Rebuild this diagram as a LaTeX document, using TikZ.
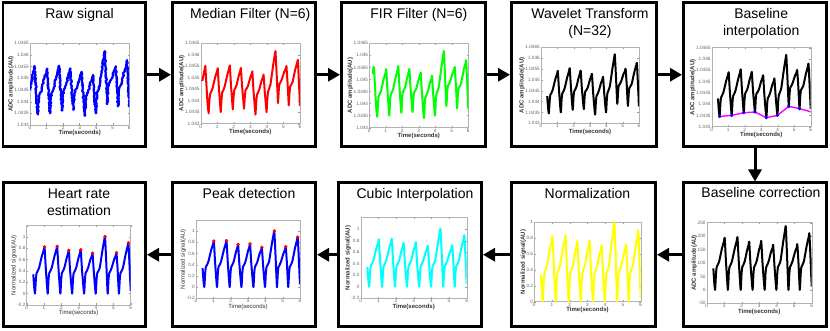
\documentclass[tikz,border=0pt]{standalone}
\usepackage{fontspec}
\setmainfont{Liberation Sans}
\usepackage{pgfplots}
\usepackage{pgfplotstable}
\pgfplotsset{compat=1.18}
\usetikzlibrary{arrows.meta,decorations.pathmorphing}
\pgfmathsetseed{7}
\definecolor{mblue}{rgb}{0,0,1}
\definecolor{mred}{rgb}{1,0,0}
\definecolor{mgreen}{rgb}{0,1,0}
\definecolor{mcyan}{rgb}{0,1,1}
\definecolor{myellow}{rgb}{1,1,0}
\definecolor{mmagenta}{rgb}{1,0,1}
\pgfplotstableread{
t v
0.00 0.45
0.10 0.60
0.20 0.76
0.28 0.88
0.38 0.34
0.43 0.12
0.48 0.00
0.53 0.25
0.57 0.36
0.64 0.40
0.72 0.46
0.875 0.66
0.99 0.77
1.03 0.82
1.10 0.45
1.21 0.00
1.26 0.25
1.30 0.36
1.37 0.40
1.45 0.46
1.605 0.66
1.72 0.78
1.76 0.83
1.83 0.46
1.94 0.00
1.99 0.25
2.03 0.36
2.10 0.40
2.18 0.46
2.305 0.625
2.39 0.71
2.43 0.76
2.50 0.42
2.62 0.00
2.67 0.25
2.71 0.36
2.78 0.40
2.86 0.46
2.99 0.63
3.08 0.72
3.12 0.77
3.19 0.42
3.31 0.00
3.36 0.25
3.40 0.36
3.47 0.40
3.55 0.46
3.675 0.60
3.76 0.66
3.80 0.71
3.87 0.39
3.98 0.00
4.03 0.25
4.07 0.36
4.14 0.40
4.22 0.46
4.37 0.76
4.48 0.95
4.52 1.00
4.59 0.55
4.67 0.00
4.72 0.25
4.76 0.36
4.83 0.40
4.91 0.46
5.045 0.60
5.14 0.67
5.18 0.72
5.25 0.40
5.32 0.00
5.37 0.25
5.41 0.36
5.48 0.40
5.56 0.46
5.715 0.70
5.83 0.84
5.87 0.89
5.94 0.45
6.00 0.05
}\sigtab
\newcommand\tickfont{\fontsize{4.7}{5}\selectfont}
\newcommand\labfont{\fontsize{6}{6.5}\selectfont\bfseries}
\tikzset{
  declare function={bl(\s)=0.129+0.01918*max(0,\s-0.48)+0.02740*max(0,\s-1.21)-0.03334*max(0,\s-1.94)-0.11759*max(0,\s-2.62)+0.14763*max(0,\s-3.31)+0.12194*max(0,\s-3.98)-0.20830*max(0,\s-4.67)-0.01574*max(0,\s-5.32);},
  box/.style={draw=black, line width=2.7pt, fill=white, minimum height=143.8pt, inner sep=0pt},
  ttl/.style={font=\fontsize{14}{16}\selectfont, anchor=base, inner sep=0pt},
  arr/.style={line width=3pt, -{Triangle[length=12pt,width=13pt]}},
  xten/.style={anchor=south west, font=\tickfont, text=black!60, inner sep=0.6pt},
}
\pgfplotsset{
  mat/.style={scale only axis, anchor=south west, xmin=0, xmax=6, xtick={0,1,...,6}, scaled ticks=false,
    axis line style={black!30, line width=0.4pt}, major tick length=1.6pt,
    every tick/.style={black!40, line width=0.3pt},
    tick label style={font=\tickfont, text=black!60, inner sep=1pt, /pgf/number format/assume math mode=true},
    xlabel={Time(seconds)}, label style={font=\labfont, text=black!80},
    xlabel style={yshift=3.5pt}, ylabel style={yshift=-4pt}},
  adc/.style={mat, ymin=0, ymax=1,
    ytick={0,0.142857,0.285714,0.428571,0.571429,0.714286,0.857143,1},
    yticklabels={1.043,1.0435,1.044,1.0445,1.045,1.0455,1.046,1.0465},
    ylabel={ADC amplitude(AU)}},
  nrm/.style={mat, ymin=-0.2, ymax=1.2, ytick={-0.2,0,0.2,0.4,0.6,0.8,1}, ylabel={Normalized signal(AU)}},
  sig/.style={line width=2pt, line join=round, smooth, tension=0.3, no markers},
  shp/.style={line width=2pt, line join=round, no markers},
}
\begin{document}
\begin{tikzpicture}[x=1pt,y=1pt]
\useasboundingbox (0,0) rectangle (830,331);
% boxes
\node[box, minimum width=142.8pt] (b1) at (74.25,256.25) {};
\node[box, minimum width=143.3pt] (b2) at (244,256.25) {};
\node[box, minimum width=144.3pt] (b3) at (413.5,256.25) {};
\node[box, minimum width=145.3pt] (b4) at (584,256.25) {};
\node[box, minimum width=143.3pt] (b5) at (755,256.25) {};
\node[box, minimum width=143.3pt] (b6) at (755,76.25) {};
\node[box, minimum width=144.3pt] (b7) at (583.5,76.25) {};
\node[box, minimum width=143.3pt] (b8) at (410,76.25) {};
\node[box, minimum width=143.3pt] (b9) at (244,76.25) {};
\node[box, minimum width=142.3pt] (b10) at (74.5,76.25) {};
% arrows
\draw[arr] (b1.east) -- (b2.west);
\draw[arr] (b2.east) -- (b3.west);
\draw[arr] (b3.east) -- (b4.west);
\draw[arr] (b4.east) -- (b5.west);
\draw[arr] (b5.south) -- (b6.north);
\draw[arr] (b6.west) -- (b7.east);
\draw[arr] (b7.west) -- (b8.east);
\draw[arr] (b8.west) -- (b9.east);
\draw[arr] (b9.west) -- (b10.east);
% titles
\node[ttl] (t1) at (79.6,312) {Raw signal};
\node[ttl] (t2) at (250.3,312) {Median Filter (N=6)};
\node[ttl] (t3) at (418.8,312) {FIR Filter (N=6)};
\node[ttl] (t4a) at (590,312) {Wavelet Transform};
\node[ttl] (t4b) at (590,295.5) {(N=32)};
\node[ttl] (t5a) at (761.2,312) {Baseline};
\node[ttl] (t5b) at (761.2,295.5) {interpolation};
\node[ttl] (t6) at (761,133) {Baseline correction};
\node[ttl] (t7) at (587.5,132) {Normalization};
\node[ttl] (t8) at (415,132) {Cubic Interpolation};
\node[ttl] (t9) at (249,132) {Peak detection};
\node[ttl] (t10a) at (79,132) {Heart rate};
\node[ttl] (t10b) at (79,115.5) {estimation};
% plots
\begin{axis}[adc, name=p1, at={(30pt,206pt)}, width=99.3pt, height=81.7pt]
\addplot[shp, line width=2.2pt, mblue, decorate, decoration={random steps, segment length=1pt, amplitude=0.7pt}] table[x=t, y expr={bl(\thisrow{t})+0.671*\thisrow{v}}] {\sigtab};
\node[xten] (x1) at (rel axis cs:0,1) {×10\textsuperscript{5}};
\end{axis}
\begin{axis}[adc, name=p2, at={(200.7pt,207.3pt)}, width=99.3pt, height=80.4pt]
\addplot[shp, mred, restrict x to domain=0.09:6] table[x=t, y expr={bl(\thisrow{t})+0.671*\thisrow{v}}] {\sigtab};
\node[xten] (x2) at (rel axis cs:0,1) {×10\textsuperscript{5}};
\end{axis}
\begin{axis}[adc, name=p3, at={(369.3pt,203.3pt)}, width=99pt, height=84.4pt]
\addplot[sig, mgreen, restrict x to domain=0.19:6] table[x=t, y expr={bl(\thisrow{t})+0.671*\thisrow{v}}] {\sigtab};
\node[xten] (x3) at (rel axis cs:0,1) {×10\textsuperscript{5}};
\end{axis}
\begin{axis}[adc, name=p4, at={(541pt,207.7pt)}, width=98pt, height=76pt]
\addplot[sig, black, restrict x to domain=0.37:6] table[x=t, y expr={bl(\thisrow{t})+0.671*\thisrow{v}}] {\sigtab};
\node[xten] (x4) at (rel axis cs:0,1) {×10\textsuperscript{5}};
\end{axis}
\begin{axis}[adc, name=p5, at={(711.7pt,204.3pt)}, width=99pt, height=79pt]
\addplot[sig, black, restrict x to domain=0.37:6] table[x=t, y expr={bl(\thisrow{t})+0.671*\thisrow{v}}] {\sigtab};
\addplot[mmagenta, line width=1.4pt, no markers] coordinates {(0.48,0.129) (1.21,0.143) (1.94,0.177) (2.62,0.186) (3.31,0.114) (3.98,0.143) (4.67,0.257) (5.32,0.229) (6.0,0.189)};
\addplot[mblue, only marks, mark=*, mark size=1.4pt] coordinates {(0.48,0.129) (1.21,0.143) (1.94,0.177) (2.62,0.186) (3.31,0.114) (3.98,0.143) (4.67,0.257) (5.32,0.229)};
\node[xten] (x5) at (rel axis cs:0,1) {×10\textsuperscript{5}};
\end{axis}
\begin{axis}[mat, name=p6, at={(706.7pt,27.7pt)}, width=105pt, height=80.6pt, ymin=-50, ymax=250, ytick={-50,0,50,100,150,200,250}, ylabel={ADC amplitude(AU)}]
\addplot[sig, black, restrict x to domain=0.37:6] table[x=t, y expr={235*\thisrow{v}}] {\sigtab};
\end{axis}
\begin{axis}[mat, name=p7, at={(534.3pt,29.3pt)}, width=106.4pt, height=79.4pt, ymin=0, ymax=1, ytick={0,0.2,0.4,0.6,0.8,1}, ylabel={Normalized signal(AU)}]
\addplot[sig, myellow, restrict x to domain=0.37:6] table[x=t, y=v] {\sigtab};
\end{axis}
\begin{axis}[nrm, name=p8, at={(360.7pt,32.7pt)}, width=106pt, height=80.6pt]
\addplot[sig, mcyan, restrict x to domain=0.37:6] table[x=t, y=v] {\sigtab};
\end{axis}
\begin{axis}[nrm, name=p9, at={(196pt,32.7pt)}, width=104pt, height=78.5pt, label style={font=\fontsize{6}{6.5}\selectfont}]
\addplot[sig, mblue, restrict x to domain=0.37:6] table[x=t, y=v] {\sigtab};
\addplot[mred, only marks, mark=*, mark size=1.5pt] coordinates {(1.03,0.82) (1.76,0.83) (2.43,0.76) (3.12,0.77) (3.80,0.71) (4.52,1.00) (5.18,0.72) (5.87,0.89)};
\end{axis}
\begin{axis}[nrm, name=p10, at={(26.7pt,26pt)}, width=104pt, height=79.7pt, label style={font=\fontsize{6}{6.5}\selectfont}]
\addplot[sig, mblue, restrict x to domain=0.37:6] table[x=t, y=v] {\sigtab};
\addplot[mred, only marks, mark=*, mark size=1.5pt] coordinates {(1.03,0.82) (1.76,0.83) (2.43,0.76) (3.12,0.77) (3.80,0.71) (4.52,1.00) (5.18,0.72) (5.87,0.89)};
\end{axis}
\end{tikzpicture}
\end{document}
